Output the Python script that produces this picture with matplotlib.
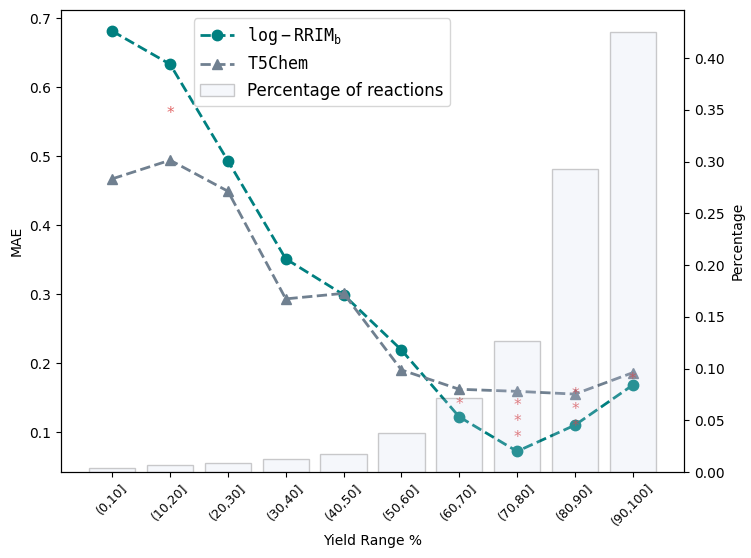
import numpy as np
import matplotlib
matplotlib.use('Agg')
import matplotlib.pyplot as plt
from matplotlib.transforms import offset_copy

yield_ranges = ['(0,10]', '(10,20]', '(20,30]', '(30,40]', '(40,50]',
                '(50,60]', '(60,70]', '(70,80]', '(80,90]', '(90,100]']
mae_rrim = [0.681, 0.633, 0.493, 0.351, 0.299, 0.219, 0.122, 0.072, 0.110, 0.168]
mae_t5chem = [0.467, 0.494, 0.449, 0.293, 0.301, 0.190, 0.162, 0.159, 0.155, 0.186]
percentage = [0.004, 0.007, 0.009, 0.0125, 0.017, 0.038, 0.072, 0.127, 0.293, 0.425]

# significance stars (bin index, MAE height)
star_bins = [1, 6, 7, 7, 7, 8, 8, 8, 9]
star_y = [0.567, 0.145, 0.144, 0.121, 0.097, 0.160, 0.137, 0.113, 0.181]

x = np.arange(len(yield_ranges))

fig, ax1 = plt.subplots(figsize=(7.51, 5.58))
fig.subplots_adjust(left=0.081, right=0.911, bottom=0.154, top=0.982)

l1, = ax1.plot(x, mae_rrim, '--o', color='teal', lw=2, ms=7.5,
               label=r'$\mathtt{log-RRIM_b}$')
l2, = ax1.plot(x, mae_t5chem, '--^', color='slategray', lw=2, ms=7.5,
               label=r'$\mathtt{T5Chem}$')
# '*' glyph sits high in its box, nudge down a bit
star_tr = offset_copy(ax1.transData, fig=fig, x=0, y=-2.5, units='points')
for b, yv in zip(star_bins, star_y):
    ax1.text(x[b], yv, '*', color='tab:red', alpha=0.7, ha='center', va='center',
             fontsize=11, transform=star_tr)

ax1.set_ylim(0.042, 0.7116)
ax1.set_ylabel('MAE')
ax1.set_xlabel('Yield Range %')
ax1.set_xticks(x)
ax1.set_xticklabels(yield_ranges, rotation=45, fontsize=9)

ax2 = ax1.twinx()
bars = ax2.bar(x, percentage, width=0.8, color='#d0d7ee', edgecolor='black',
               alpha=0.2, label='Percentage of reactions')
ax2.set_ylim(0, 0.4464)
ax2.set_ylabel('Percentage')

ax2.legend([l1, l2, bars], [l1.get_label(), l2.get_label(), 'Percentage of reactions'],
           loc='upper left', bbox_to_anchor=(0.2, 1.0), fontsize=12)

plt.savefig('out.png', dpi=100)
